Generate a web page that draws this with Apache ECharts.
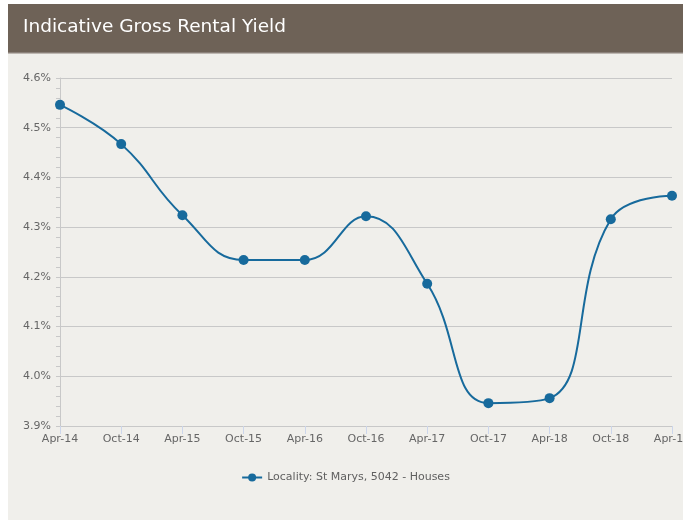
<!DOCTYPE html>
<html>
<head>
<meta charset="utf-8">
<script src="https://cdn.jsdelivr.net/npm/echarts@6/dist/echarts.min.js"></script>
<style>
  html, body { margin: 0; padding: 0; background: #ffffff; }
  #chart { position: absolute; left: 8px; top: 4px; width: 675px; height: 516px; background: #f0efeb; overflow: hidden; }
</style>
</head>
<body>
<div id="chart"></div>
<script>
// Half-yearly periods shown on the x axis
const periods = ['Apr-14', 'Oct-14', 'Apr-15', 'Oct-15', 'Apr-16', 'Oct-16',
                 'Apr-17', 'Oct-17', 'Apr-18', 'Oct-18', 'Apr-19'];
// Gross rental yield (%) for houses in St Marys, 5042
const yieldPct = [4.546, 4.467, 4.324, 4.234, 4.234, 4.322,
                  4.186, 3.946, 3.956, 4.316, 4.363];
const seriesName = 'Locality: St Marys, 5042 - Houses';
const chartTitle = 'Indicative Gross Rental Yield';

const font = 'DejaVu Sans, sans-serif';
const chart = echarts.init(document.getElementById('chart'), null, { renderer: 'canvas' });

chart.setOption({
  animation: false,
  backgroundColor: '#f0efeb',
  graphic: [
    { type: 'rect', left: 0, top: 0, shape: { width: 675, height: 49 }, style: { fill: '#6e6257' }, z: 0 },
    { type: 'rect', left: 0, top: 48, shape: { width: 675, height: 1.5 }, style: { fill: '#8a8079' }, z: 0 }
  ],
  title: {
    text: chartTitle,
    left: 15, top: 14, padding: 0,
    textStyle: { color: '#ffffff', fontSize: 18.5, fontWeight: 'normal', fontFamily: font }
  },
  grid: { left: 52, right: 11, top: 74, bottom: 94, containLabel: false, outerBoundsMode: 'none' },
  legend: {
    data: [seriesName],
    top: 463,
    left: 'center',
    itemWidth: 20, itemHeight: 10, itemGap: 6,
    textStyle: { color: '#606060', fontSize: 11, fontFamily: font }
  },
  xAxis: {
    type: 'category',
    data: periods,
    boundaryGap: false,
    axisLine: { lineStyle: { color: '#c8c8c8', width: 1 } },
    axisTick: { show: true, alignWithLabel: true, length: 8, lineStyle: { color: '#ccd6eb' } },
    axisLabel: { color: '#666666', fontSize: 11, fontFamily: font, margin: 8, interval: 0 },
    splitLine: { show: false }
  },
  yAxis: {
    type: 'value',
    min: 3.9, max: 4.6, interval: 0.1,
    axisLine: { show: true, lineStyle: { color: '#c8c8c8' } },
    axisTick: { show: true, length: 4, lineStyle: { color: '#c8c8c8' } },
    minorTick: { show: true, splitNumber: 5, length: 4, lineStyle: { color: '#c8c8c8' } },
    axisLabel: {
      color: '#666666', fontSize: 11, fontFamily: font, margin: 9,
      formatter: v => v.toFixed(1) + '%'
    },
    splitLine: { lineStyle: { color: '#c8c8c8', width: 1 } }
  },
  series: [{
    name: seriesName,
    type: 'line',
    data: yieldPct,
    smooth: 0.45,
    symbol: 'circle',
    symbolSize: 10,
    lineStyle: { color: '#176a9c', width: 2 },
    itemStyle: { color: '#176a9c' }
  }]
});
</script>
</body>
</html>
